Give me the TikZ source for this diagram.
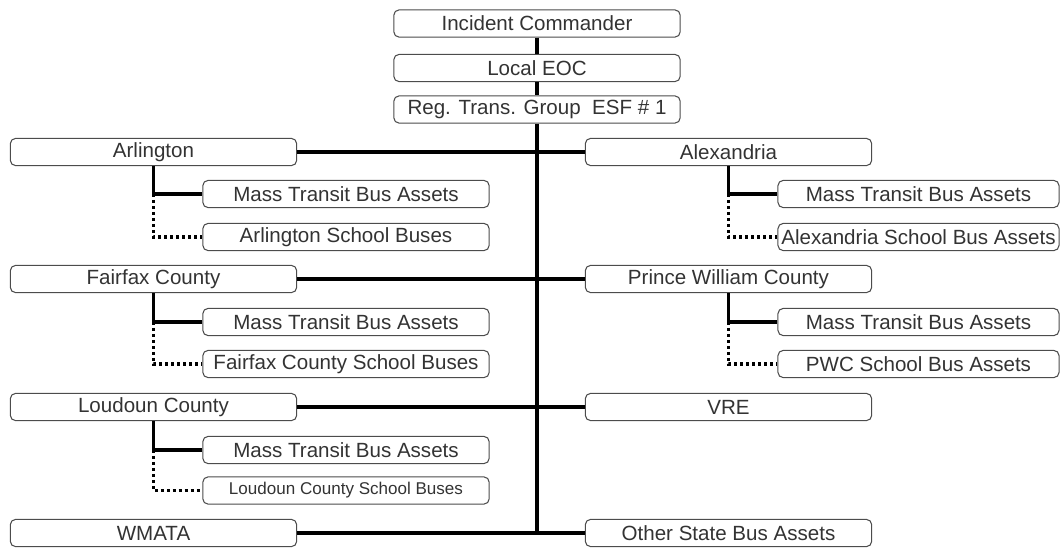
\documentclass[tikz,border=0pt]{standalone}
\usepackage{fontspec}
\setmainfont{Liberation Sans}
\usepackage{tikz}
\usetikzlibrary{positioning}
\tikzstyle{unit} = [draw=black!70, line width=0.6pt, rounded corners=3pt, fill=white, minimum height=15.5pt, inner sep=0pt, font=\fontsize{11.7}{13}\selectfont, text=black!80]
\tikzstyle{top} = [unit, minimum width=163pt]
\tikzstyle{side} = [unit, minimum width=163pt]
\tikzstyle{sub} = [unit, minimum width=163pt]
\tikzstyle{link} = [line width=2pt]
\tikzstyle{dotlink} = [line width=2pt, dash pattern=on 1.8pt off 1.6pt]

\begin{document}
\begin{tikzpicture}[x=0.02cm, y=-0.02cm]
  \useasboundingbox (0,0) rectangle (1062,548);
  % chain of command
  \node[top] (ic) at (537,23.5) {Incident Commander};
  \node[top] (eoc) at (537,68) {Local EOC};
  \node[top] (rtg) at (537,109.5) {Reg. Trans. Group\ \ ESF \# 1};
  % jurisdictions
  \node[side] (arl) at (153.5,152) {Arlington};
  \node[side] (alx) at (728.5,152) {Alexandria};
  \node[side] (ffx) at (153.5,279) {Fairfax County};
  \node[side] (pwc) at (728.5,279) {Prince William County};
  \node[side] (ldn) at (153.5,407) {Loudoun County};
  \node[side] (vre) at (728.5,407) {VRE};
  \node[side] (wmata) at (153.5,533) {WMATA};
  \node[side] (osb) at (728.5,533) {Other State Bus Assets};
  \coordinate (bottom) at (537,533);
  % bus assets
  \node[sub] (arlmt) at (346,194) {Mass Transit Bus Assets};
  \node[sub] (arlsb) at (346,237) {Arlington School Buses};
  \node[sub, minimum width=160pt] (alxmt) at (918.5,194) {Mass Transit Bus Assets};
  \node[sub, minimum width=160pt] (alxsb) at (918.5,237) {Alexandria School Bus Assets};
  \node[sub] (ffxmt) at (346,322) {Mass Transit Bus Assets};
  \node[sub] (ffxsb) at (346,364) {Fairfax County School Buses};
  \node[sub, minimum width=160pt] (pwcmt) at (918.5,322) {Mass Transit Bus Assets};
  \node[sub, minimum width=160pt] (pwcsb) at (918.5,364) {PWC School Bus Assets};
  \node[sub] (ldnmt) at (346,450) {Mass Transit Bus Assets};
  \node[sub, font=\fontsize{9.7}{12}\selectfont] (ldnsb) at (346,490.5) {Loudoun County School Buses};

  % spine and rows
  \draw[link] (ic) -- (eoc);
  \draw[link] (eoc) -- (rtg);
  \draw[link] (rtg) -- (bottom);
  \draw[link] (arl.east) -- (alx.west);
  \draw[link] (ffx.east) -- (pwc.west);
  \draw[link] (ldn.east) -- (vre.west);
  \draw[link] (wmata.east) -- (osb.west);
  \foreach \p in {arl, alx, ffx, pwc, ldn} {
    \draw[link] (\p.south) |- (\p mt.west);
    \draw[dotlink] (\p.south |- \p mt.west) |- (\p sb.west);
  }
\end{tikzpicture}
\end{document}
